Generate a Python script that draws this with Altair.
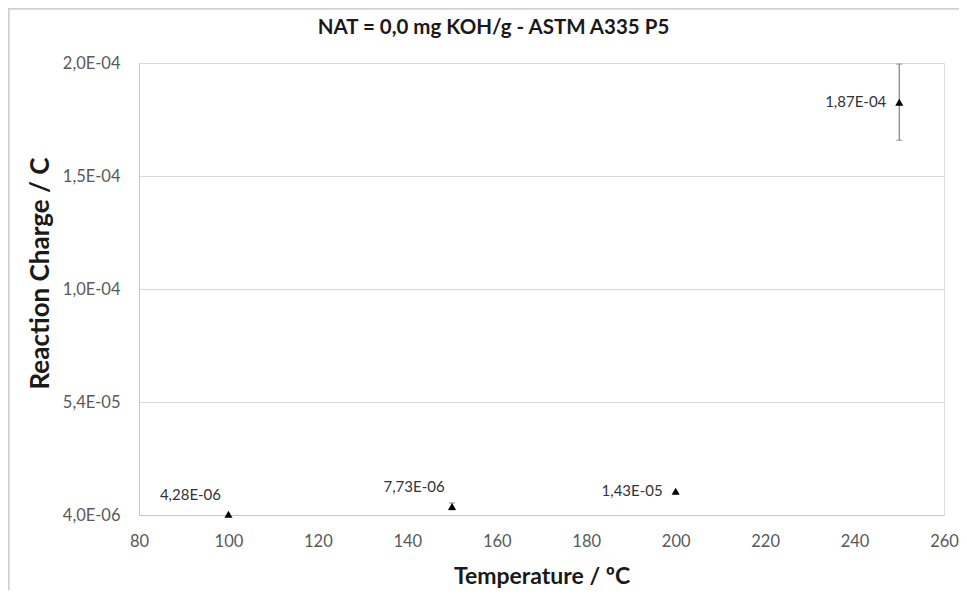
import altair as alt
import pandas as pd

# ---- data ----
temperature = [100, 150, 200, 250]
charge = [4.28e-6, 7.73e-6, 1.43e-5, 1.83e-4]
charge_err = [0.0, 1.5e-6, 0.0, 1.65e-5]
point_labels = ["4,28E-06", "7,73E-06", "1,43E-05", "1,87E-04"]
label_side = ["above", "above", "left", "left"]

y_tick_values = [4.0e-6, 5.3e-5, 1.02e-4, 1.51e-4, 2.0e-4]
y_tick_labels = ["4,0E-06", "5,4E-05", "1,0E-04", "1,5E-04", "2,0E-04"]
x_ticks = [80, 100, 120, 140, 160, 180, 200, 220, 240, 260]

df = pd.DataFrame({
    "T": temperature,
    "Q": charge,
    "err": charge_err,
    "label": point_labels,
    "side": label_side,
})
df["lo"] = df["Q"] - df["err"]
df["hi"] = df["Q"] + df["err"]

FONT = "Lato"
label_js = "[" + ",".join("'" + s + "'" for s in y_tick_labels) + "]"
step = (y_tick_values[-1] - y_tick_values[0]) / (len(y_tick_values) - 1)
label_expr = f"{label_js}[round((datum.value - {y_tick_values[0]}) / {step})]"

x_enc = alt.X("T:Q",
              scale=alt.Scale(domain=[80, 260], nice=False),
              axis=alt.Axis(values=x_ticks, title="Temperature / ºC", grid=False,
                            ticks=False, labelPadding=18, titlePadding=16,
                            labelFlush=False, labelOverlap=False,
                            labelFontSize=16.5, titleFontSize=23, labelColor="#595959",
                            titleColor="#1a1a1a", titleFontWeight="bold",
                            domainColor="#c6c6c6", labelFont=FONT, titleFont=FONT))
y_scale = alt.Scale(domain=[y_tick_values[0], y_tick_values[-1]], nice=False, zero=False)
y_enc = alt.Y("Q:Q", scale=y_scale,
              axis=alt.Axis(values=y_tick_values, labelExpr=label_expr,
                            title="Reaction Charge / C", grid=True, gridColor="#d9d9d9",
                            ticks=False, labelPadding=19, labelOverlap=False,
                            titleX=-99, titleY=210, titleBaseline="middle",
                            labelFontSize=16.5, titleFontSize=26, labelColor="#595959",
                            titleColor="#1a1a1a", titleFontWeight="bold",
                            domainColor="#c6c6c6", labelFont=FONT, titleFont=FONT))

base = alt.Chart(df)

errbars = base.transform_filter("datum.err > 0").mark_rule(
    color="#7f7f7f", strokeWidth=1.2).encode(
    x=x_enc, y=alt.Y("lo:Q", scale=y_scale), y2="hi:Q")
caps_lo = base.transform_filter("datum.err > 0").mark_tick(
    color="#7f7f7f", thickness=1.2, size=6, orient="horizontal").encode(
    x="T:Q", y=alt.Y("lo:Q", scale=y_scale))
caps_hi = base.transform_filter("datum.err > 0").mark_tick(
    color="#7f7f7f", thickness=1.2, size=6, orient="horizontal").encode(
    x="T:Q", y=alt.Y("hi:Q", scale=y_scale))

points = base.mark_point(shape="triangle-up", filled=True, color="black",
                         size=65, opacity=1).encode(x=x_enc, y=y_enc)

labels_above = base.transform_filter("datum.side == 'above'").mark_text(
    align="center", baseline="middle", dx=-38, dy=-19, fontSize=15,
    font=FONT, color="#333333").encode(x="T:Q", y="Q:Q", text="label:N")
labels_left = base.transform_filter("datum.side == 'left'").mark_text(
    align="right", baseline="middle", dx=-13, dy=0, fontSize=15,
    font=FONT, color="#333333").encode(x="T:Q", y="Q:Q", text="label:N")

# outer chart frame (left and top edges visible in the reference)
frame_left = alt.Chart(df).mark_rule(color="#d0d0d0", strokeWidth=1.5).encode(
    x=alt.value(-130.5), y=alt.value(-55), y2=alt.value(530))
frame_top = alt.Chart(df).mark_rule(color="#d0d0d0", strokeWidth=1.5).encode(
    x=alt.value(-131), x2=alt.value(830), y=alt.value(-54.5))

chart = alt.layer(
    frame_left, frame_top, errbars, caps_lo, caps_hi, points, labels_above, labels_left
).properties(
    width=805,
    height=452,
    autosize=alt.AutoSizeParams(type="none"),
    padding={"left": 131, "top": 55, "right": 15, "bottom": 75},
    title=alt.TitleParams("NAT = 0,0 mg KOH/g - ASTM A335 P5", anchor="middle",
                          frame="group", dx=-48, font=FONT, fontSize=20.5,
                          fontWeight="bold", color="#1a1a1a", offset=-31),
).configure_view(stroke=None).configure(background="white")

chart.save("out.html", embed_options={"renderer": "svg", "actions": False})
